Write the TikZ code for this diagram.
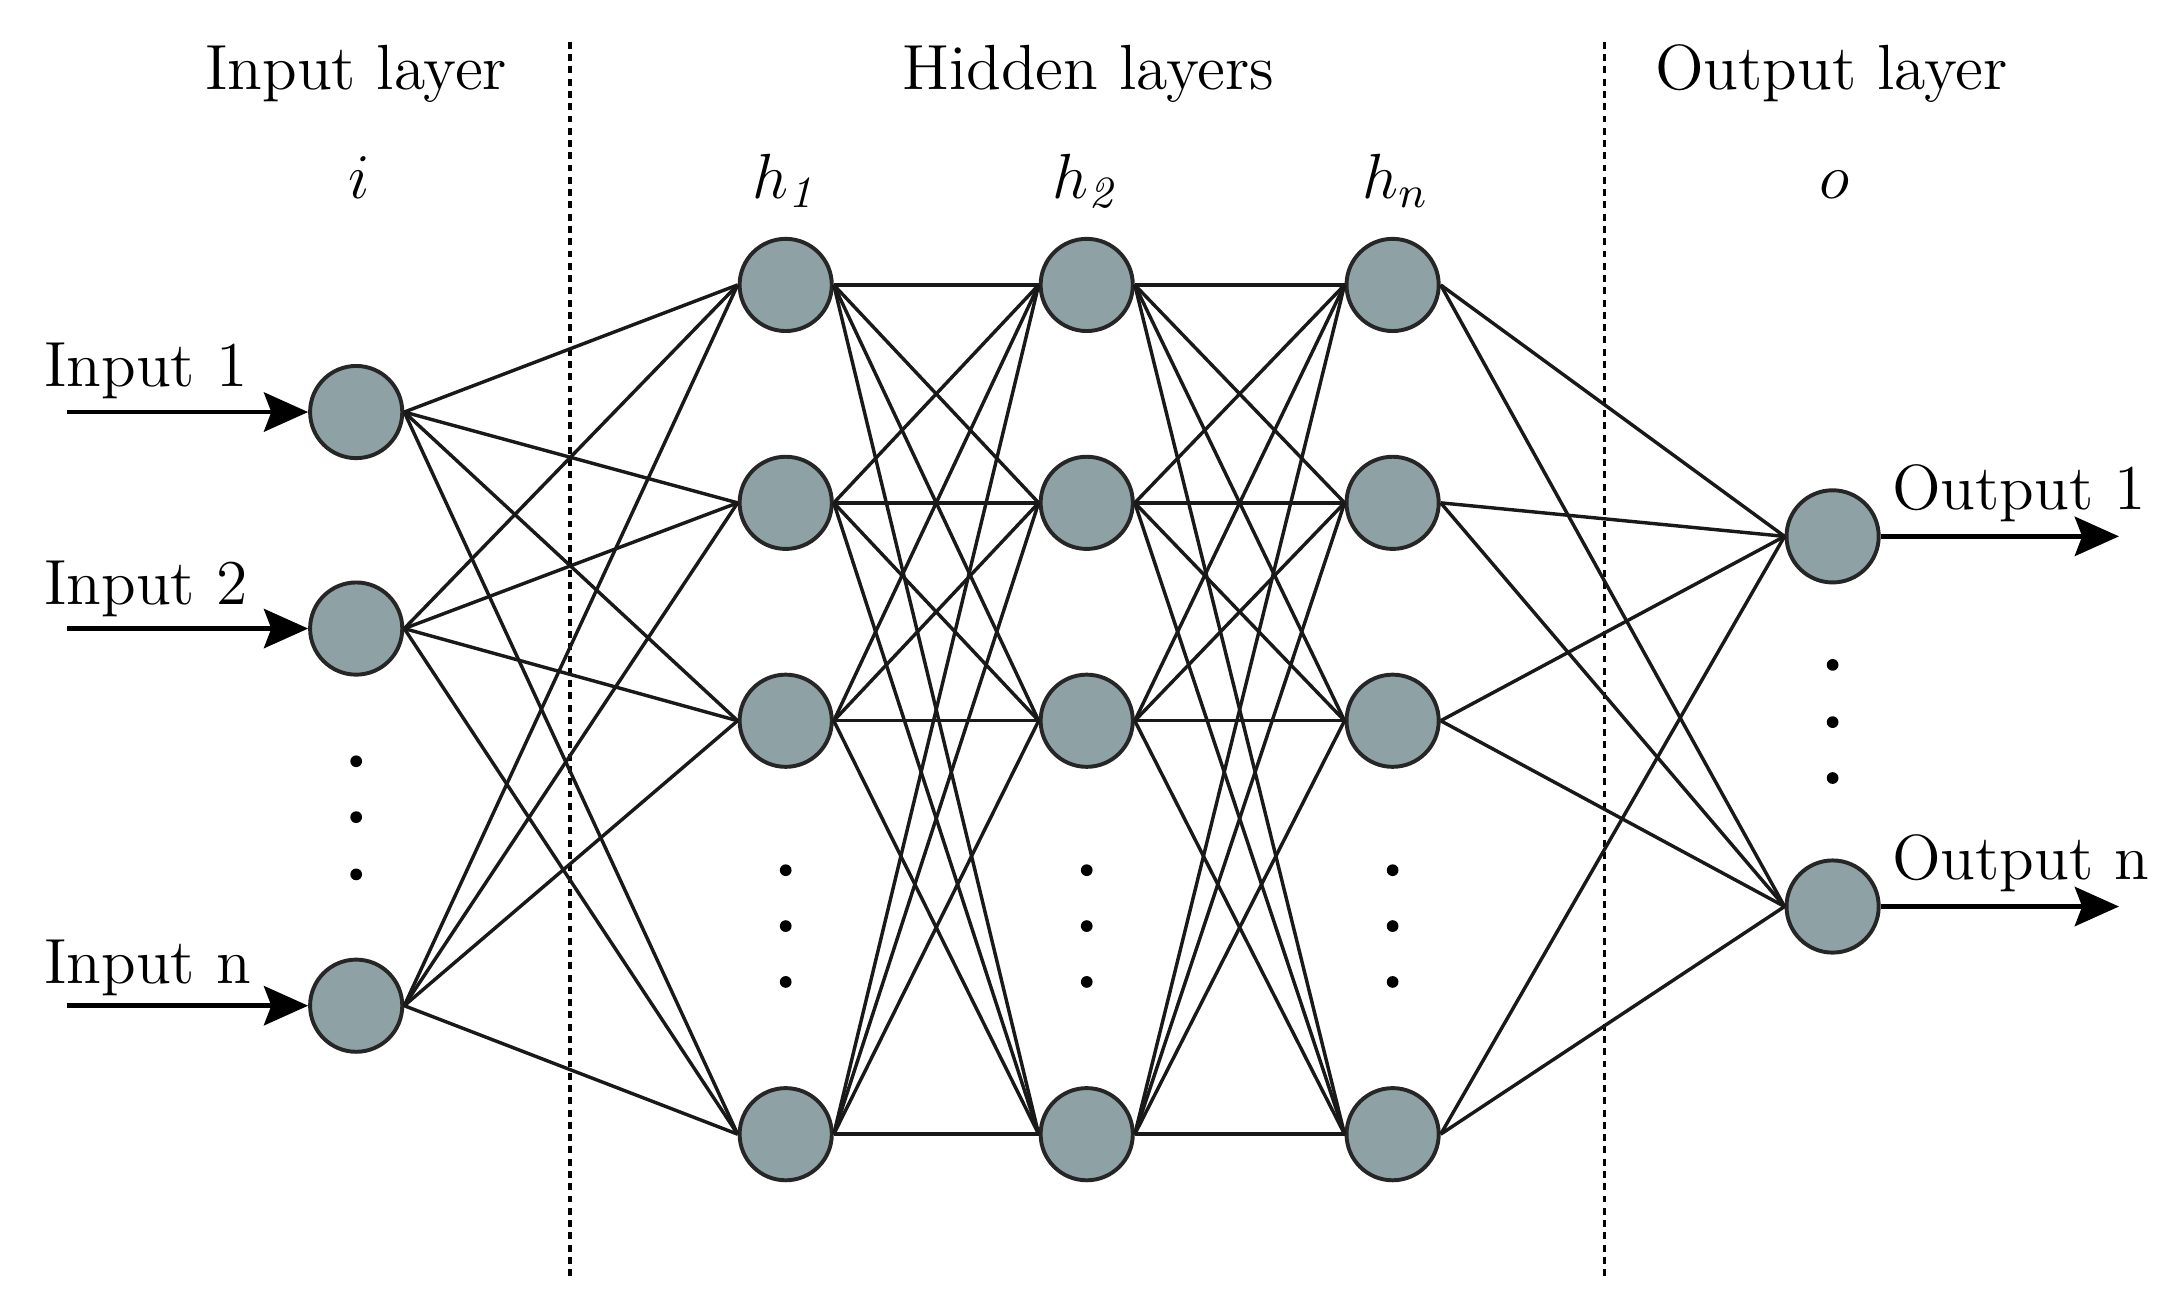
\documentclass[tikz,border=0pt]{standalone}
\usepackage{fix-cm}
\usepackage{amsmath}
\usepackage{xcolor}
\usepackage{tikz}
\usetikzlibrary{arrows.meta, positioning}

\definecolor{neurongray}{RGB}{142,162,165}

\tikzset{
    neuron/.style={circle, draw=black!85, line width=0.8pt, fill=neurongray,
        minimum size=0.66cm, inner sep=0pt},
    link/.style={line width=0.7pt, black!90},
    signal/.style={line width=0.9pt, -{Stealth[length=9pt,width=8pt,inset=1.5pt]}},
    divider/.style={line width=0.65pt, dash pattern=on 1.4pt off 1.1pt},
    txt/.style={font=\fontsize{13}{15}\selectfont, inner sep=0pt}
}

\begin{document}
\begin{tikzpicture}
        \useasboundingbox (0,0) rectangle (15.6,9.35);

        % layer separators
        \draw[divider] (4.08,9.05) -- (4.08,0.21);
        \draw[divider] (11.485,9.05) -- (11.485,0.21);

        \node[txt, anchor=base] at (2.55,8.71) {Input layer};
        \node[txt, anchor=base] at (7.79,8.71) {Hidden layers};
        \node[txt, anchor=base] at (13.11,8.71) {Output layer};

        \node[txt, anchor=base] at (2.57,7.93) {$i$};
        \node[txt, anchor=base] at (5.63,7.93) {$h_{\mathit{1}}$};
        \node[txt, anchor=base] at (7.78,7.93) {$h_{\mathit{2}}$};
        \node[txt, anchor=base] at (9.99,7.93) {$h_n$};
        \node[txt, anchor=base] at (13.13,7.93) {$o$};

        % input layer
        \node[neuron] (in1) at (2.55,6.40) {};
        \node[neuron] (in2) at (2.55,4.85) {};
        \node[neuron] (in3) at (2.55,2.15) {};

        % hidden layers
        \node[neuron] (ha1) at (5.625,7.31) {};
        \node[neuron] (ha2) at (5.625,5.75) {};
        \node[neuron] (ha3) at (5.625,4.19) {};
        \node[neuron] (ha4) at (5.625,1.23) {};

        \node[neuron] (hb1) at (7.78,7.31) {};
        \node[neuron] (hb2) at (7.78,5.75) {};
        \node[neuron] (hb3) at (7.78,4.19) {};
        \node[neuron] (hb4) at (7.78,1.23) {};

        \node[neuron] (hc1) at (9.97,7.31) {};
        \node[neuron] (hc2) at (9.97,5.75) {};
        \node[neuron] (hc3) at (9.97,4.19) {};
        \node[neuron] (hc4) at (9.97,1.23) {};

        % output layer
        \node[neuron] (out1) at (13.12,5.51) {};
        \node[neuron] (out2) at (13.12,2.86) {};

        % dots
        \foreach \y in {3.90,3.50,3.09}
            \fill (2.55,\y) circle (0.042);
        \foreach \x in {5.625,7.78,9.97}
            \foreach \y in {3.12,2.72,2.32}
                \fill (\x,\y) circle (0.042);
        \foreach \y in {4.59,4.18,3.78}
            \fill (13.12,\y) circle (0.042);

        % connections
        \foreach \a in {in1,in2,in3}
            \foreach \b in {ha1,ha2,ha3,ha4}
                \draw[link] (\a.east) -- (\b.west);
        \foreach \a in {ha1,ha2,ha3,ha4}
            \foreach \b in {hb1,hb2,hb3,hb4}
                \draw[link] (\a.east) -- (\b.west);
        \foreach \a in {hb1,hb2,hb3,hb4}
            \foreach \b in {hc1,hc2,hc3,hc4}
                \draw[link] (\a.east) -- (\b.west);
        \foreach \a in {hc1,hc2,hc3,hc4}
            \foreach \b in {out1,out2}
                \draw[link] (\a.east) -- (\b.west);

        % inputs and outputs
        \coordinate (x1) at (0.48,6.40);
        \coordinate (x2) at (0.48,4.85);
        \coordinate (x3) at (0.48,2.15);
        \coordinate (y1) at (15.17,5.51);
        \coordinate (y2) at (15.17,2.86);

        \draw[signal] (x1) -- (in1.west);
        \draw[signal] (x2) -- (in2.west);
        \draw[signal] (x3) -- (in3.west);
        \draw[signal] (out1.east) -- (y1);
        \draw[signal] (out2.east) -- (y2);

        \node[txt, anchor=base west] at (0.31,6.58) {Input 1};
        \node[txt, anchor=base west] at (0.31,5.02) {Input 2};
        \node[txt, anchor=base west] at (0.31,2.31) {Input n};
        \node[txt, anchor=base west] at (13.54,5.70) {Output 1};
        \node[txt, anchor=base west] at (13.54,3.05) {Output n};
    \end{tikzpicture}
\end{document}
